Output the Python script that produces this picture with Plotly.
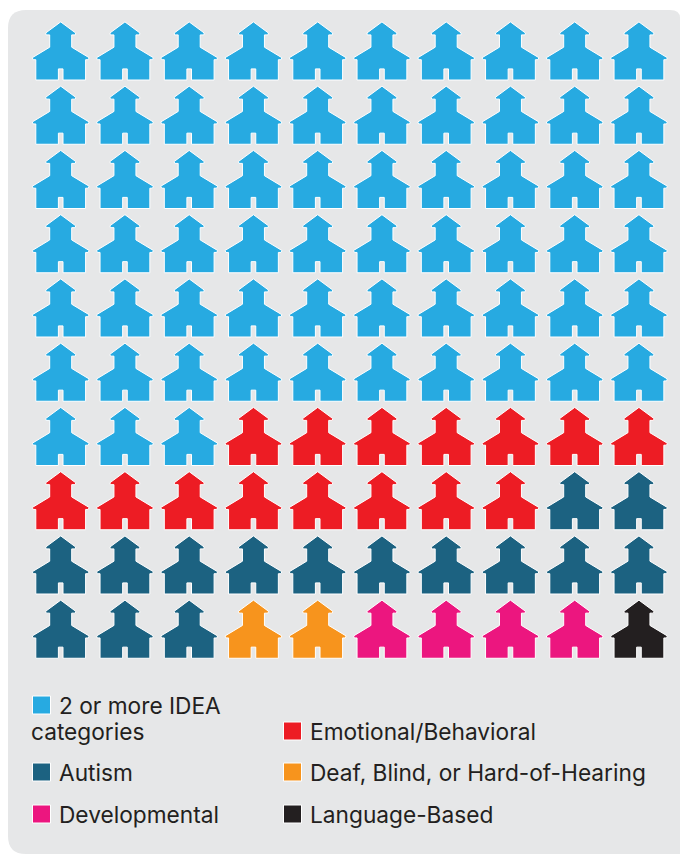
import plotly.graph_objects as go

categories = ["2 or more IDEA categories", "Emotional/Behavioral", "Autism",
              "Deaf, Blind, or Hard-of-Hearing", "Developmental", "Language-Based"]
counts = [63, 15, 15, 2, 4, 1]
colors = ["#27AAE1", "#ED1C24", "#1C6281", "#F7941D", "#EC167F", "#231F20"]

# legend entries: (category index, swatch x, swatch y)
legend_order = [0, 2, 4, 1, 3, 5]
legend_swatch_x = [41.5, 41.5, 41.5, 292.5, 292.5, 292.5]
legend_swatch_y = [705, 772, 814, 731, 772, 814]
legend_lines = [
    [("2 or more IDEA", 59, 705), ("categories", 31, 731)],
    [("Autism", 59, 772)],
    [("Developmental", 59, 814)],
    [("Emotional/Behavioral", 310, 731)],
    [("Deaf, Blind, or Hard-of-Hearing", 310, 772)],
    [("Language-Based", 310, 814)],
]

W, H = 680, 854
X0, Y0, PITCH_X, PITCH_Y = 60.7, 22.7, 64.25, 64.25
N_COLS = 10

half = [(0, -0.8), (-15.0, 10.3), (-14.6, 12.2), (-11.0, 12.2), (-11.0, 24.5), (-28.4, 35.0),
        (-27.6, 37.0), (-24.9, 37.0), (-24.9, 57.3), (-2.3, 57.3), (-2.3, 46.2)]
house = half + [(-x, y) for x, y in reversed(half)]

fig = go.Figure()
idx = 0
for name, n, color in zip(categories, counts, colors):
    xs, ys = [], []
    for _ in range(n):
        row, col = divmod(idx, N_COLS)
        cx, cy = X0 + col * PITCH_X, Y0 + row * PITCH_Y
        xs += [cx + dx for dx, dy in house] + [None]
        ys += [cy + dy for dx, dy in house] + [None]
        idx += 1
    fig.add_trace(go.Scatter(x=xs, y=ys, mode="lines", fill="toself", fillcolor=color,
                             line=dict(color="white", width=1), name=name,
                             hoverinfo="name", showlegend=False))

for i, sx, sy in zip(legend_order, legend_swatch_x, legend_swatch_y):
    fig.add_trace(go.Scatter(x=[sx], y=[sy], mode="markers", name=categories[i], showlegend=False,
                             marker=dict(symbol="square", size=18, color=colors[i],
                                         line=dict(color="white", width=1))))

annotations = []
for lines in legend_lines:
    for text, x, y in lines:
        annotations.append(dict(text=text, x=x, y=y, xref="x", yref="y", xanchor="left",
                                yanchor="middle", showarrow=False, xshift=-2,
                                font=dict(family="Inter, DejaVu Sans", size=22.7, color="#231F20")))

R = 18
panel = (f"M {8+R},10 L {680-10},10 Q 680,10 680,{10+8} L 680,854 L {8+R},854 "
         f"Q 8,854 8,{854-R} L 8,{10+R} Q 8,10 {8+R},10 Z")

fig.update_layout(
    width=W, height=H, margin=dict(l=0, r=0, t=0, b=0),
    paper_bgcolor="white", plot_bgcolor="white",
    xaxis=dict(range=[0, W], visible=False, fixedrange=True),
    yaxis=dict(range=[H, 0], visible=False, fixedrange=True),
    shapes=[dict(type="path", path=panel, xref="x", yref="y", fillcolor="#E6E7E8",
                 line=dict(width=0), layer="below")],
    annotations=annotations,
    showlegend=False,
)
fig.write_html("out.html", config={"displayModeBar": False},
               post_script="document.body.style.margin='0';")
